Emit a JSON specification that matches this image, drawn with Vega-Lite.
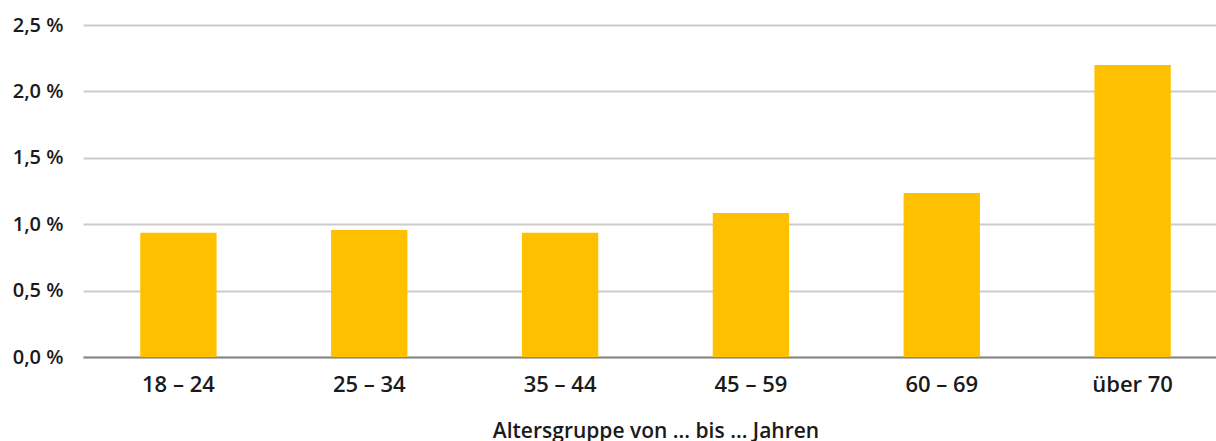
{
  "$schema": "https://vega.github.io/schema/vega-lite/v6.json",
  "autosize": "none",
  "width": 1145,
  "height": 332,
  "padding": {"left": 83, "top": 25, "right": 0, "bottom": 84},
  "background": "white",
  "data": {
    "values": [
      {"gruppe": "18 – 24", "anteil": 0.935},
      {"gruppe": "25 – 34", "anteil": 0.957},
      {"gruppe": "35 – 44", "anteil": 0.935},
      {"gruppe": "45 – 59", "anteil": 1.084},
      {"gruppe": "60 – 69", "anteil": 1.235},
      {"gruppe": "über 70", "anteil": 2.199}
    ]
  },
  "config": {
    "view": {"stroke": null},
    "font": "Open Sans"
  },
  "mark": {"type": "bar", "color": "#FFC000"},
  "encoding": {
    "x": {
      "field": "gruppe",
      "type": "nominal",
      "sort": null,
      "scale": {"paddingInner": 0.6, "paddingOuter": 0.3},
      "axis": {
        "title": "Altersgruppe von ... bis ... Jahren",
        "labelAngle": 0,
        "labelFont": "Open Sans",
        "labelFontWeight": 600,
        "labelFontSize": 22,
        "labelColor": "#1a1a1a",
        "labelPadding": 17,
        "ticks": false,
        "domain": true,
        "domainColor": "#888888",
        "domainWidth": 2,
        "titleFont": "Open Sans",
        "titleFontWeight": 600,
        "titleFontSize": 21,
        "titleColor": "#1a1a1a",
        "titlePadding": 25
      }
    },
    "y": {
      "field": "anteil",
      "type": "quantitative",
      "scale": {"domain": [0, 2.5], "nice": false},
      "axis": {
        "title": null,
        "values": [0, 0.5, 1, 1.5, 2, 2.5],
        "labelExpr": "replace(format(datum.value, '.1f'), '.', ',') + ' %'",
        "labelFont": "Open Sans",
        "labelFontWeight": 600,
        "labelFontSize": 20,
        "labelColor": "#1a1a1a",
        "labelPadding": 20,
        "ticks": false,
        "domain": false,
        "grid": true,
        "gridColor": "#cccccc",
        "gridWidth": 2,
        "zindex": 0
      }
    }
  }
}
